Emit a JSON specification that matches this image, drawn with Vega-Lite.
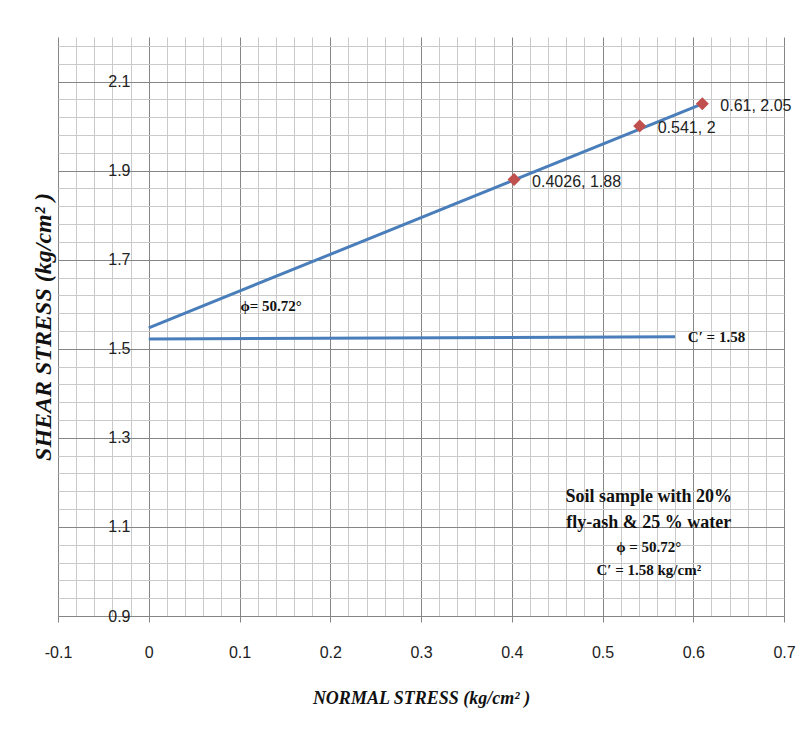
{
  "$schema": "https://vega.github.io/schema/vega-lite/v6.json",
  "autosize": "none",
  "width": 726,
  "height": 579,
  "padding": {"left": 58, "top": 37, "right": 20, "bottom": 115},
  "background": "white",
  "config": {"view": {"stroke": null}, "font": "Liberation Sans"},
  "datasets": {
    "points": [
      {"x": 0.4026, "y": 1.88, "label": "0.4026, 1.88"},
      {"x": 0.541, "y": 2.0, "label": "0.541, 2"},
      {"x": 0.61, "y": 2.05, "label": "0.61, 2.05"}
    ],
    "lines": [
      {"series": "envelope", "x": 0, "y": 1.547},
      {"series": "envelope", "x": 0.61, "y": 2.05},
      {"series": "cohesion", "x": 0, "y": 1.522},
      {"series": "cohesion", "x": 0.58, "y": 1.527}
    ],
    "notesBig": [
      {"x": 0.551, "y": 1.167, "text": "Soil sample with 20%"},
      {"x": 0.551, "y": 1.109, "text": "fly-ash & 25 % water"}
    ],
    "notesSmall": [
      {"x": 0.551, "y": 1.055, "text": "ϕ = 50.72°"},
      {"x": 0.551, "y": 1.003, "text": "C′ = 1.58 kg/cm²"}
    ],
    "lineNotes": [
      {"x": 0.101, "y": 1.597, "text": "ϕ= 50.72°"},
      {"x": 0.594, "y": 1.527, "text": "C′ = 1.58"}
    ]
  },
  "layer": [
    {
      "data": {"name": "lines"},
      "mark": {"type": "line", "color": "#4a7ebb", "strokeWidth": 3},
      "encoding": {
        "x": {
          "field": "x", "type": "quantitative",
          "scale": {"domain": [-0.1, 0.7], "nice": false, "zero": false},
          "axis": {
            "values": [-0.1,-0.08,-0.06,-0.04,-0.02,0,0.02,0.04,0.06,0.08,0.1,0.12,0.14,0.16,0.18,0.2,0.22,0.24,0.26,0.28,0.3,0.32,0.34,0.36,0.38,0.4,0.42,0.44,0.46,0.48,0.5,0.52,0.54,0.56,0.58,0.6,0.62,0.64,0.66,0.68,0.7],
            "tickCount": 500,
            "labelExpr": "abs(datum.value*10 - round(datum.value*10)) < 0.001 ? '' + datum.value : ''",
            "grid": true,
            "gridColor": {"condition": {"test": "abs(datum.value*10 - round(datum.value*10)) < 0.001", "value": "#858585"}, "value": "#cacaca"},
            "gridWidth": 1,
            "tickOpacity": {"condition": {"test": "abs(datum.value*10 - round(datum.value*10)) < 0.001", "value": 1}, "value": 0},
            "tickColor": "#858585",
            "tickSize": 6,
            "domainColor": "#858585",
            "labelFont": "Liberation Sans",
            "labelFontSize": 16,
            "labelColor": "#222222",
            "labelPadding": 22,
            "labelFlush": false,
            "labelOverlap": false,
            "title": "NORMAL STRESS (kg/cm² )",
            "titleFont": "Liberation Serif",
            "titleFontStyle": "italic",
            "titleFontWeight": "bold",
            "titleFontSize": 18,
            "titleColor": "#111111",
            "titlePadding": 29
          }
        },
        "y": {
          "field": "y", "type": "quantitative",
          "scale": {"domain": [0.9, 2.2], "nice": false, "zero": false},
          "axis": {
            "values": [0.9,0.94,0.98,1.02,1.06,1.1,1.14,1.18,1.22,1.26,1.3,1.34,1.38,1.42,1.46,1.5,1.54,1.58,1.62,1.66,1.7,1.74,1.78,1.82,1.86,1.9,1.94,1.98,2.02,2.06,2.1,2.14,2.18],
            "tickCount": 500,
            "labelExpr": "abs((datum.value-0.9)*5 - round((datum.value-0.9)*5)) < 0.001 ? '' + datum.value : ''",
            "grid": true,
            "gridColor": {"condition": {"test": "abs((datum.value-0.9)*5 - round((datum.value-0.9)*5)) < 0.001", "value": "#858585"}, "value": "#cacaca"},
            "gridWidth": 1,
            "ticks": false,
            "tickSize": 0,
            "domain": false,
            "labelFont": "Liberation Sans",
            "labelFontSize": 16,
            "labelColor": "#222222",
            "labelAlign": "right",
            "labelBaseline": "middle",
            "labelPadding": -72,
            "labelFlush": false,
            "labelOverlap": false,
            "title": "SHEAR STRESS (kg/cm² )",
            "titleFont": "Liberation Serif",
            "titleFontStyle": "italic",
            "titleFontWeight": "bold",
            "titleFontSize": 24,
            "titleColor": "#111111",
            "titlePadding": 3
          }
        },
        "detail": {"field": "series", "type": "nominal"}
      }
    },
    {
      "data": {"name": "points"},
      "mark": {"type": "point", "shape": "diamond", "filled": true, "color": "#c0504d", "size": 170, "opacity": 1},
      "encoding": {
        "x": {"field": "x", "type": "quantitative"},
        "y": {"field": "y", "type": "quantitative"}
      }
    },
    {
      "data": {"name": "points"},
      "mark": {"type": "text", "align": "left", "baseline": "middle", "dx": 18, "dy": 2, "font": "Liberation Sans", "fontSize": 16, "color": "#222222"},
      "encoding": {
        "x": {"field": "x", "type": "quantitative"},
        "y": {"field": "y", "type": "quantitative"},
        "text": {"field": "label"}
      }
    },
    {
      "data": {"name": "lineNotes"},
      "mark": {"type": "text", "align": "left", "baseline": "middle", "font": "Liberation Serif", "fontWeight": "bold", "fontSize": 15, "color": "#111111"},
      "encoding": {
        "x": {"field": "x", "type": "quantitative"},
        "y": {"field": "y", "type": "quantitative"},
        "text": {"field": "text"}
      }
    },
    {
      "data": {"name": "notesBig"},
      "mark": {"type": "text", "align": "center", "baseline": "middle", "font": "Liberation Serif", "fontWeight": "bold", "fontSize": 18, "color": "#111111"},
      "encoding": {
        "x": {"field": "x", "type": "quantitative"},
        "y": {"field": "y", "type": "quantitative"},
        "text": {"field": "text"}
      }
    },
    {
      "data": {"name": "notesSmall"},
      "mark": {"type": "text", "align": "center", "baseline": "middle", "font": "Liberation Serif", "fontWeight": "bold", "fontSize": 15, "color": "#111111"},
      "encoding": {
        "x": {"field": "x", "type": "quantitative"},
        "y": {"field": "y", "type": "quantitative"},
        "text": {"field": "text"}
      }
    }
  ]
}
